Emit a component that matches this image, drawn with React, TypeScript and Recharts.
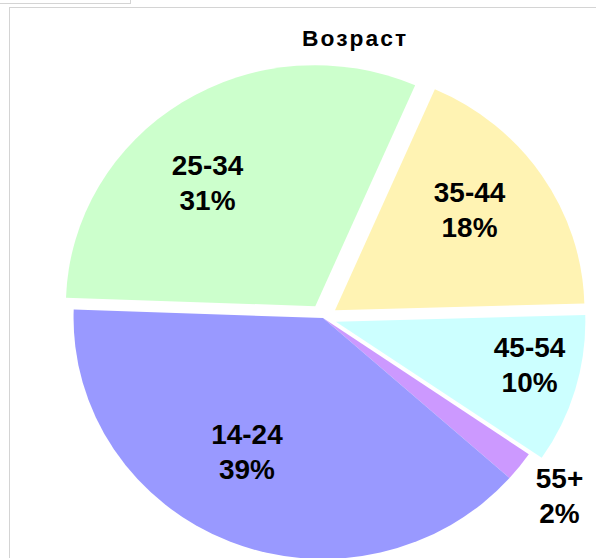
import { PieChart, Pie, Cell } from "recharts";

// Age groups, read clockwise from the left edge
const categories = ["25-34", "35-44", "45-54", "55+", "14-24"];
const shares = [31, 18, 10, 2, 39];
const sliceColors = ["#ccffcc", "#fff3b3", "#ccffff", "#cc99ff", "#9999ff"];
const title = "Возраст";

const data = categories.map((name, i) => ({ name, value: shares[i] }));

const W = 596;
const H = 558;
const CX = 323;
const CY = 318;
const R = 241;
const START = 178;
const STRETCH = 1.035;
const RAD = Math.PI / 180;

// how far each slice is pulled out from the centre
const explode: Record<string, number> = {
  "25-34": 14,
  "35-44": 14,
  "45-54": 13,
  "55+": 0,
  "14-24": 0,
};

// label distance from centre and turn off the slice's mid angle
const labelPlace: Record<string, { r: number; da: number }> = {
  "25-34": { r: 175, da: 7.4 },
  "35-44": { r: 178, da: 3.3 },
  "45-54": { r: 205, da: 3.2 },
  "55+": { r: 290, da: 0 },
  "14-24": { r: 153, da: -6.9 },
};

const total = shares.reduce((a, b) => a + b, 0);
const midAngles = shares.map((v, i) => {
  const before = shares.slice(0, i).reduce((a, b) => a + b, 0);
  return START - (360 * (before + v / 2)) / total;
});

const makeLabel = (slice: number) => (props: any) => {
  if (props.index !== slice) return <g />;
  const name = categories[slice];
  const p = labelPlace[name];
  const a = (midAngles[slice] + p.da) * RAD;
  const x = CX + p.r * Math.cos(a);
  const y = CY - p.r * Math.sin(a);
  return (
    <g>
      <text
        x={x}
        y={y - 17.5}
        textAnchor="middle"
        dominantBaseline="central"
        fontFamily="'Liberation Sans', Arial, sans-serif"
        fontWeight="bold"
        fontSize={27}
        fill="#000"
      >
        {name}
      </text>
      <text
        x={x}
        y={y + 17.5}
        textAnchor="middle"
        dominantBaseline="central"
        fontFamily="'Liberation Sans', Arial, sans-serif"
        fontWeight="bold"
        fontSize={27}
        fill="#000"
      >
        {`${shares[slice]}%`}
      </text>
    </g>
  );
};

export default function App() {
  return (
    <div
      style={{
        position: "absolute",
        left: 0,
        top: 0,
        width: W,
        height: H,
        overflow: "hidden",
        background: "#fff",
      }}
    >
      {/* sheet cell borders */}
      <div style={{ position: "absolute", left: 0, top: 3, width: 130, height: 1, background: "#d4d4d4" }} />
      <div style={{ position: "absolute", left: 130, top: 0, width: 1, height: 4, background: "#d4d4d4" }} />
      <div style={{ position: "absolute", left: 9, top: 7, width: W - 9, height: 1, background: "#d4d4d4" }} />
      <div style={{ position: "absolute", left: 9, top: 7, width: 1, height: H - 7, background: "#d4d4d4" }} />

      <div
        style={{
          position: "absolute",
          left: 0,
          top: 0,
          width: W,
          height: H,
          transform: `scaleX(${STRETCH})`,
          transformOrigin: `${CX}px ${CY}px`,
        }}
      >
        <div
          style={{
            position: "absolute",
            left: 252,
            top: 28,
            width: 200,
            textAlign: "center",
            fontFamily: "'Liberation Sans', Arial, sans-serif",
            fontWeight: "bold",
            fontSize: 22,
            lineHeight: "22px",
            letterSpacing: 2,
            paddingLeft: 2,
            color: "#000",
            zIndex: 2,
          }}
        >
          {title}
        </div>
        <PieChart width={W} height={H} margin={{ top: 0, right: 0, bottom: 0, left: 0 }}>
          {categories.map((name, i) => {
            const d = explode[name];
            const a = midAngles[i] * RAD;
            return (
              <Pie
                key={name}
                data={data}
                dataKey="value"
                nameKey="name"
                cx={CX + d * Math.cos(a)}
                cy={CY - d * Math.sin(a)}
                innerRadius={0}
                outerRadius={R}
                startAngle={START}
                endAngle={START - 360}
                stroke="none"
                isAnimationActive={false}
                labelLine={false}
                label={makeLabel(i)}
              >
                {data.map((entry, j) => (
                  <Cell key={entry.name} fill={j === i ? sliceColors[i] : "transparent"} />
                ))}
              </Pie>
            );
          })}
        </PieChart>
      </div>
    </div>
  );
}
